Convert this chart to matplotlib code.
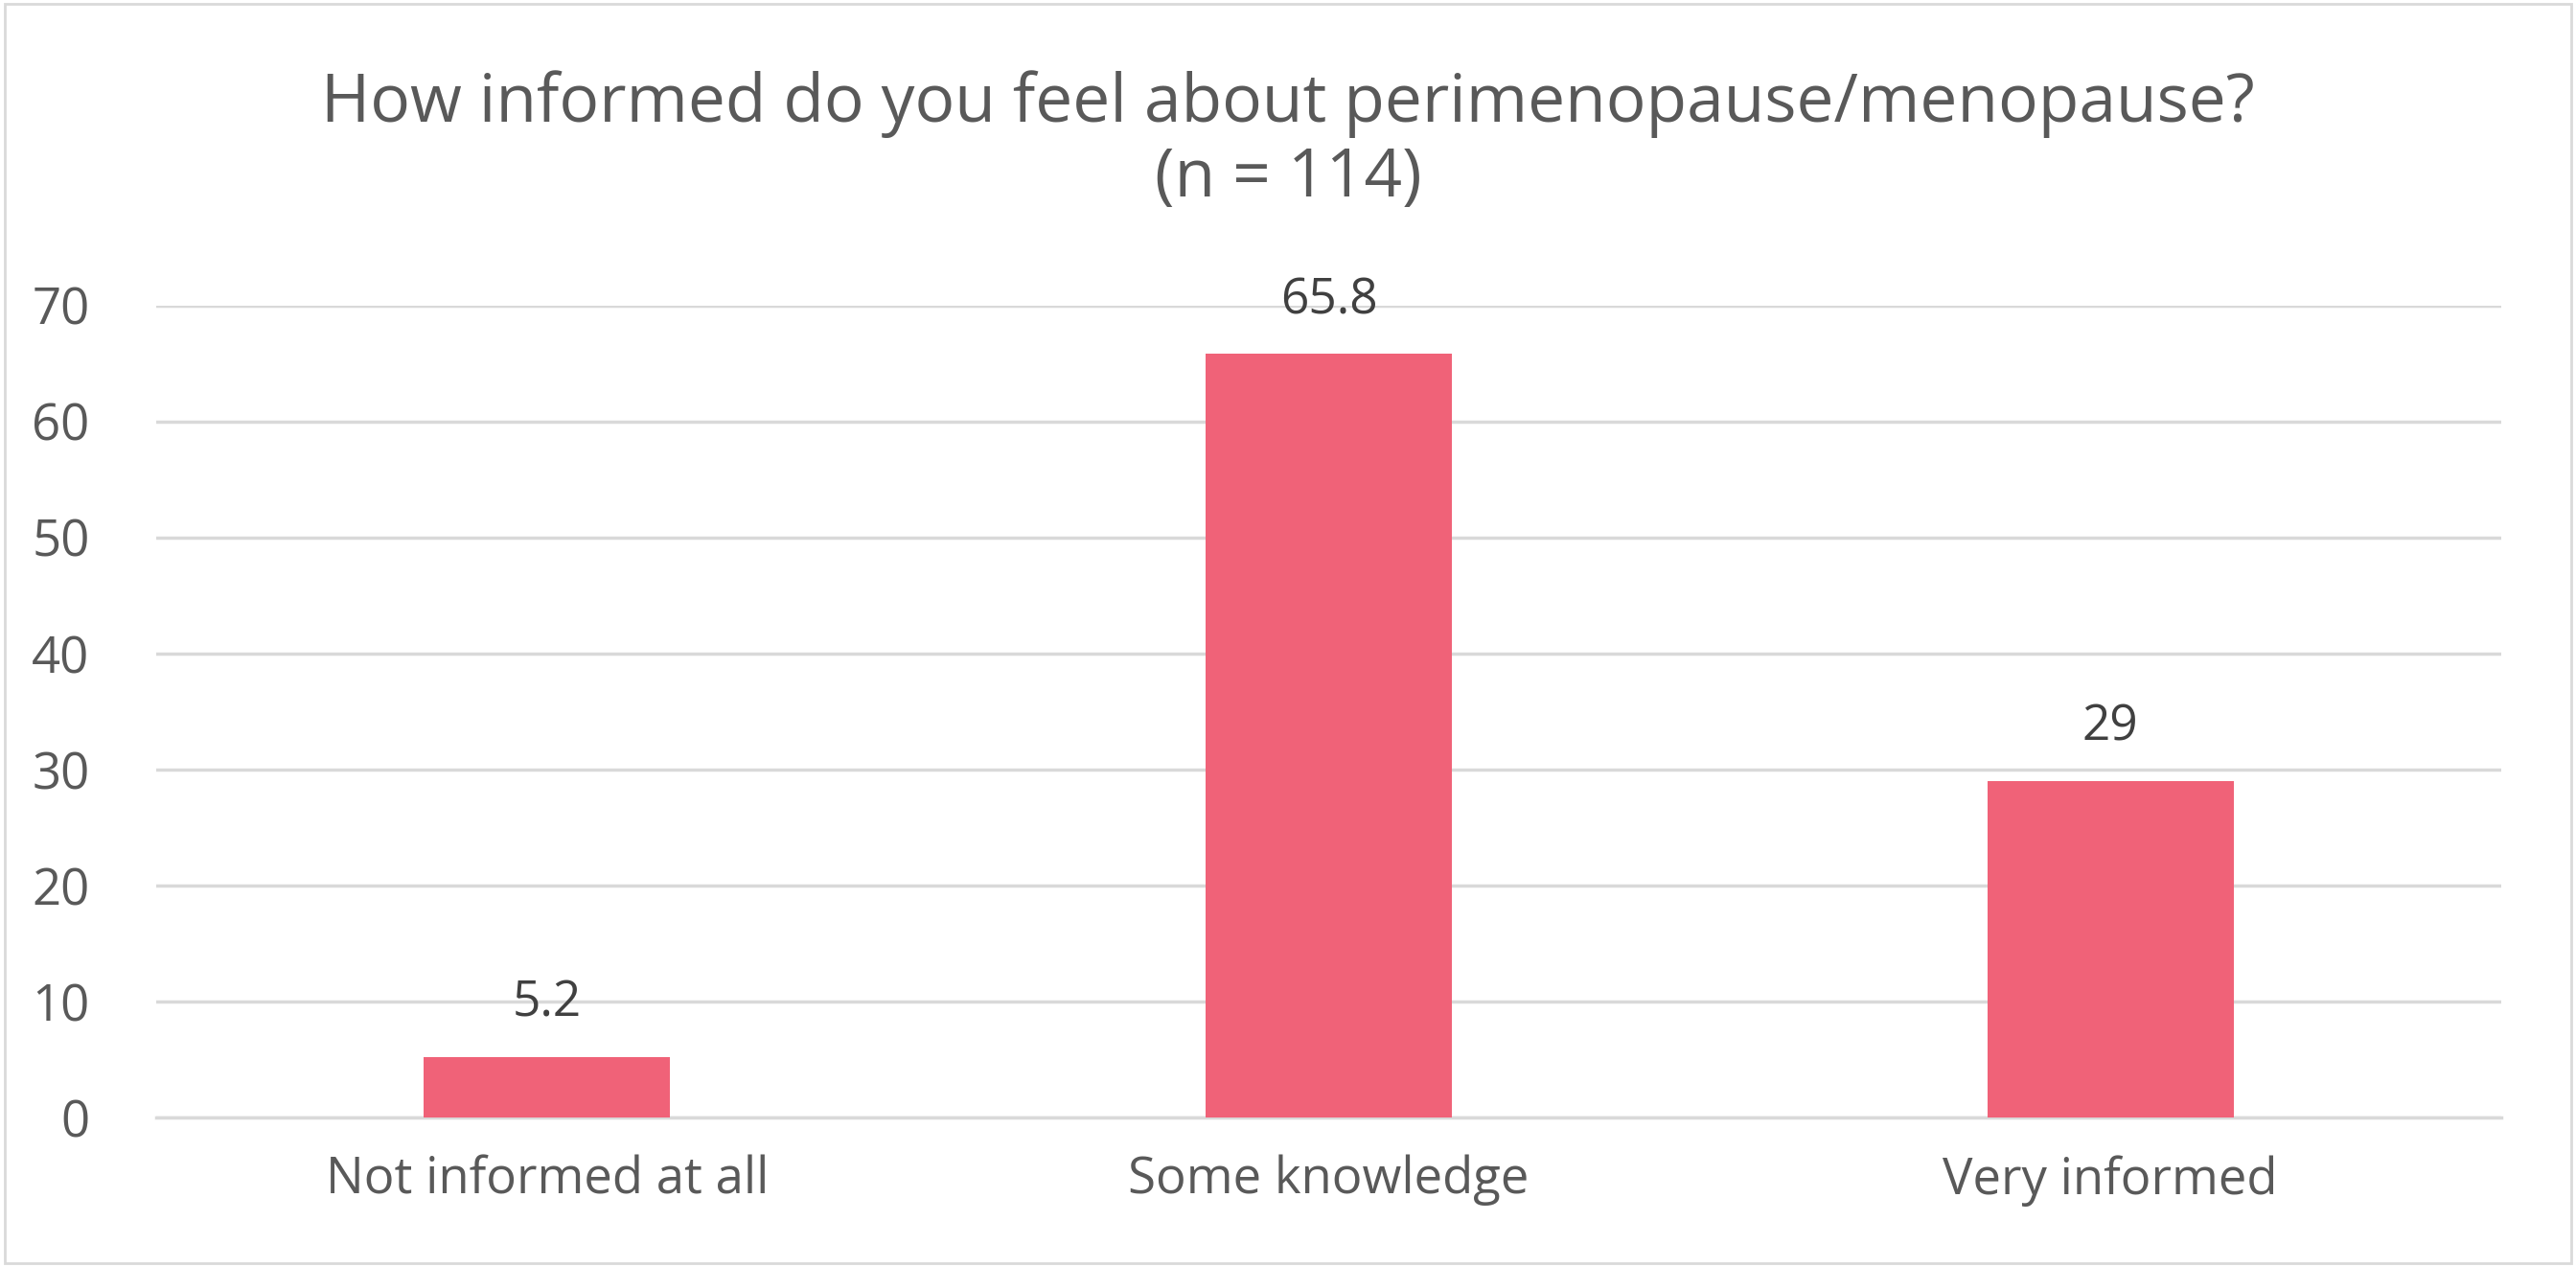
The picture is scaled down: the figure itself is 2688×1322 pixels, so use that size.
import matplotlib
matplotlib.use("Agg")
import matplotlib.pyplot as plt
from matplotlib.patches import Rectangle

categories = ["Not informed at all", "Some knowledge", "Very informed"]
values = [5.2, 65.8, 29]
labels = ["5.2", "65.8", "29"]

plt.rcParams['font.family'] = ['Open Sans', 'DejaVu Sans']
grey = '#595959'

fig = plt.figure(figsize=(26.88, 13.22), dpi=100)
fig.patches.append(Rectangle((0.002, 0.003), 0.996, 0.994, transform=fig.transFigure,
                             fill=False, edgecolor='#d9d9d9', linewidth=2))
ax = fig.add_axes([0.0606, 0.118, 0.9104, 0.641])

x = range(len(categories))
ax.bar(x, values, width=0.315, color='#F06278', zorder=3)
for xi, v, t in zip(x, values, labels):
    ax.text(xi, v + 2.5, t, ha='center', va='bottom', fontsize=37, color='#404040')

ax.set_xlim(-0.5, 2.5)
ax.set_ylim(0, 70)
ax.set_yticks(range(0, 71, 10))
ax.set_xticks(list(x))
ax.set_xticklabels(categories)
ax.yaxis.grid(True, color='#d9d9d9', linewidth=2.5, zorder=0)
ax.tick_params(axis='both', length=0, labelsize=38, labelcolor=grey)
ax.tick_params(axis='x', pad=28)
ax.tick_params(axis='y', pad=50)
for s in ['top', 'right', 'left']:
    ax.spines[s].set_visible(False)
ax.spines['bottom'].set_color('#d9d9d9')
ax.spines['bottom'].set_linewidth(2.5)

fig.text(0.5, 0.888, "How informed do you feel about perimenopause/menopause?\n(n = 114)",
         ha='center', va='center', fontsize=50, color=grey, linespacing=1.15)

fig.savefig("out.png", dpi=100)
